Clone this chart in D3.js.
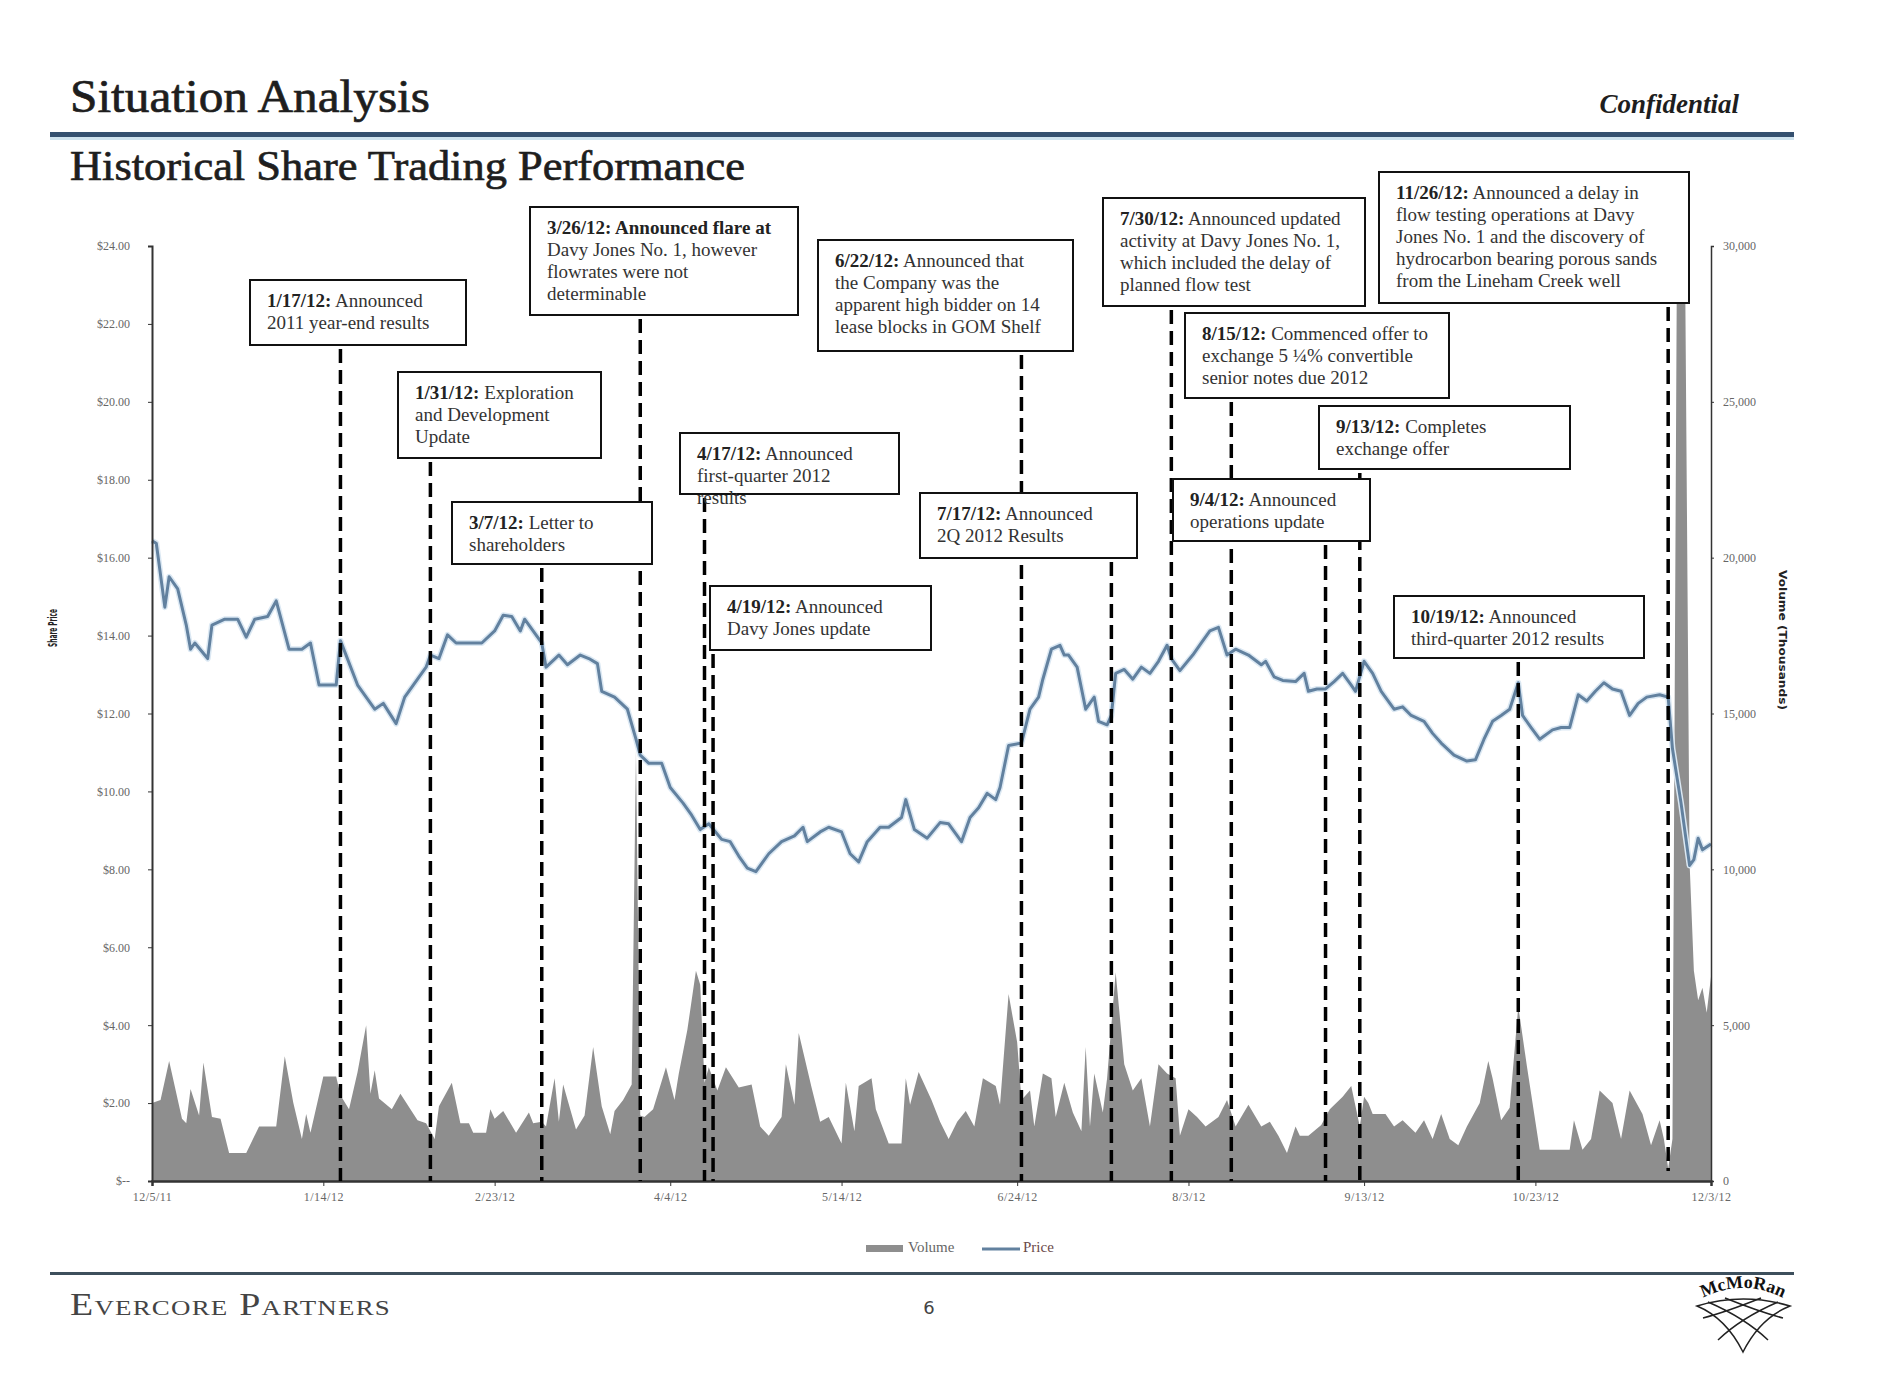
<!DOCTYPE html>
<html>
<head>
<meta charset="utf-8">
<script src="https://cdn.jsdelivr.net/npm/d3@7"></script>
<style>
  body { margin: 0; background: #fff; }
  svg { font-family: 'Liberation Serif', serif; }
  .note rect { fill: #fff; stroke: #111; stroke-width: 2px; }
  .note text { fill: #333; font-size: 19px; }
  .note .b { font-weight: bold; fill: #222; }
  .axis text { font-family: 'Liberation Serif', serif; fill: #666; font-size: 12px; }
  .axis path, .axis line { stroke: #333; }
</style>
</head>
<body>
<svg id="chart" width="1884" height="1400"></svg>
<script>
// ---- data ----
var xTickLabels = ["12/5/11","1/14/12","2/23/12","4/4/12","5/14/12","6/24/12","8/3/12","9/13/12","10/23/12","12/3/12"];
var priceTicks = [0,2,4,6,8,10,12,14,16,18,20,22,24];
var priceTickLabels = ["$--","$2.00","$4.00","$6.00","$8.00","$10.00","$12.00","$14.00","$16.00","$18.00","$20.00","$22.00","$24.00"];
var volumeTicks = [0,5000,10000,15000,20000,25000,30000];
var volumeTickLabels = ["0","5,000","10,000","15,000","20,000","25,000","30,000"];

var priceDates = ["12/5/11","12/6/11","12/8/11","12/9/11","12/11/11","12/13/11","12/14/11","12/15/11","12/18/11","12/19/11",
  "12/22/11","12/25/11","12/27/11","12/29/11","1/1/12","1/3/12","1/6/12","1/9/12","1/11/12","1/13/12",
  "1/17/12","1/18/12","1/22/12","1/24/12","1/26/12","1/28/12","1/31/12","2/2/12","2/5/12","2/7/12",
  "2/8/12","2/10/12","2/12/12","2/14/12","2/17/12","2/20/12","2/23/12","2/25/12","2/27/12","2/29/12",
  "3/1/12","3/5/12","3/6/12","3/9/12","3/11/12","3/14/12","3/16/12","3/18/12","3/19/12","3/22/12",
  "3/25/12","3/27/12","3/28/12","3/30/12","4/2/12","4/4/12","4/7/12","4/9/12","4/11/12","4/13/12",
  "4/16/12","4/18/12","4/20/12","4/22/12","4/24/12","4/27/12","4/30/12","5/3/12","5/5/12","5/6/12",
  "5/9/12","5/11/12","5/14/12","5/16/12","5/18/12","5/20/12","5/23/12","5/25/12","5/28/12","5/29/12",
  "5/31/12","6/3/12","6/6/12","6/8/12","6/11/12","6/13/12","6/15/12","6/17/12","6/19/12","6/20/12",
  "6/22/12","6/25/12","6/27/12","6/29/12","6/30/12","7/2/12","7/4/12","7/5/12","7/6/12","7/8/12",
  "7/10/12","7/12/12","7/13/12","7/15/12","7/16/12","7/17/12","7/19/12","7/21/12","7/23/12","7/25/12",
  "7/27/12","7/29/12","7/30/12","8/1/12","8/4/12","8/6/12","8/8/12","8/10/12","8/12/12","8/14/12",
  "8/17/12","8/20/12","8/21/12","8/23/12","8/25/12","8/28/12","8/30/12","8/31/12","9/2/12","9/4/12",
  "9/6/12","9/8/12","9/10/12","9/11/12","9/13/12","9/15/12","9/17/12","9/20/12","9/22/12","9/24/12",
  "9/27/12","9/29/12","10/1/12","10/4/12","10/7/12","10/9/12","10/11/12","10/13/12","10/15/12","10/17/12",
  "10/19/12","10/20/12","10/22/12","10/24/12","10/27/12","10/29/12","10/31/12","11/2/12","11/4/12","11/6/12",
  "11/8/12","11/10/12","11/12/12","11/14/12","11/16/12","11/18/12","11/21/12","11/23/12","11/24/12","11/26/12",
  "11/28/12","11/29/12","11/30/12","12/1/12","12/3/12"];
var priceValues = [16.43,16.37,14.73,15.51,15.20,14.27,13.65,13.81,13.41,14.27,
  14.42,14.42,13.96,14.42,14.49,14.89,13.65,13.65,13.81,12.73,
  12.73,13.87,12.73,12.42,12.11,12.26,11.74,12.42,12.88,13.19,
  13.50,13.41,14.02,13.81,13.81,13.81,14.12,14.52,14.49,14.12,
  14.42,13.81,13.19,13.50,13.25,13.50,13.41,13.28,12.57,12.42,
  12.11,11.34,10.93,10.72,10.72,10.10,9.70,9.39,9.02,9.17,
  8.77,8.71,8.34,8.03,7.94,8.40,8.71,8.86,9.08,8.71,
  8.96,9.08,8.96,8.40,8.19,8.71,9.08,9.08,9.33,9.79,
  9.02,8.80,9.20,9.17,8.71,9.33,9.58,9.95,9.79,10.10,
  11.18,11.24,12.11,12.42,12.88,13.65,13.75,13.50,13.50,13.19,
  12.11,12.42,11.80,11.71,11.95,13.03,13.13,12.88,13.19,13.03,
  13.34,13.75,13.41,13.10,13.50,13.81,14.12,14.21,13.50,13.65,
  13.50,13.25,13.34,12.94,12.85,12.82,13.03,12.57,12.63,12.63,
  12.82,13.03,12.73,12.57,13.34,13.03,12.57,12.11,12.17,11.95,
  11.80,11.49,11.24,10.93,10.78,10.81,11.34,11.80,11.95,12.11,
  12.79,11.95,11.64,11.34,11.58,11.64,11.64,12.48,12.32,12.57,
  12.79,12.63,12.57,11.95,12.26,12.42,12.48,12.42,11.10,9.70,
  8.10,8.25,8.80,8.50,8.65];

var volumeDates = ["12/5/11","12/7/11","12/9/11","12/12/11","12/13/11","12/14/11","12/16/11","12/17/11","12/19/11","12/21/11",
  "12/23/11","12/27/11","12/30/11","1/3/12","1/5/12","1/7/12","1/9/12","1/10/12","1/11/12","1/14/12",
  "1/17/12","1/18/12","1/20/12","1/22/12","1/24/12","1/25/12","1/26/12","1/27/12","1/30/12","2/1/12",
  "2/5/12","2/7/12","2/9/12","2/10/12","2/13/12","2/15/12","2/17/12","2/18/12","2/21/12","2/22/12",
  "2/23/12","2/25/12","2/28/12","3/2/12","3/3/12","3/5/12","3/6/12","3/8/12","3/9/12","3/10/12",
  "3/13/12","3/15/12","3/17/12","3/19/12","3/21/12","3/22/12","3/24/12","3/26/12","3/27/12","3/28/12","3/29/12",
  "3/31/12","4/3/12","4/5/12","4/6/12","4/8/12","4/10/12","4/11/12","4/12/12","4/13/12","4/15/12",
  "4/17/12","4/20/12","4/23/12","4/25/12","4/27/12","4/30/12","5/1/12","5/3/12","5/4/12","5/7/12",
  "5/9/12","5/11/12","5/14/12","5/15/12","5/17/12","5/18/12","5/21/12","5/22/12","5/25/12","5/28/12",
  "5/29/12","5/30/12","6/1/12","6/4/12","6/6/12","6/8/12","6/10/12","6/12/12","6/14/12","6/16/12",
  "6/19/12","6/20/12","6/22/12","6/24/12","6/25/12","6/27/12","6/28/12","6/30/12","7/2/12","7/3/12",
  "7/5/12","7/7/12","7/9/12","7/10/12","7/11/12","7/12/12","7/14/12","7/15/12","7/17/12","7/19/12",
  "7/21/12","7/23/12","7/25/12","7/27/12","7/29/12","7/31/12","8/1/12","8/3/12","8/5/12","8/7/12",
  "8/10/12","8/12/12","8/14/12","8/17/12","8/20/12","8/22/12","8/24/12","8/26/12","8/28/12","8/29/12",
  "8/31/12","9/3/12","9/5/12","9/8/12","9/10/12","9/12/12","9/13/12","9/14/12","9/15/12","9/18/12",
  "9/20/12","9/22/12","9/25/12","9/27/12","9/29/12","10/1/12","10/3/12","10/5/12","10/7/12","10/10/12",
  "10/12/12","10/13/12","10/15/12","10/17/12","10/19/12","10/21/12","10/24/12","10/28/12","10/31/12","11/1/12",
  "11/3/12","11/5/12","11/7/12","11/10/12","11/12/12","11/14/12","11/17/12","11/19/12","11/21/12","11/22/12",
  "11/23/12","11/24/12","11/25/12","11/27/12","11/28/12","11/29/12","11/30/12","12/1/12","12/2/12","12/3/12"];
var volumeValues = [2500,2600,3850,2000,1850,2950,2100,3800,2050,2000,
  900,900,1750,1750,4000,2500,1350,2150,1550,3350,
  3350,2750,2300,3500,5000,2800,3550,2650,2300,2800,
  1950,1850,1350,2400,3150,1850,1850,1550,1550,2300,
  2000,2250,1550,2200,1850,1900,1750,3300,1900,3100,
  1650,2100,4300,2400,1500,2250,2600,3100,13800,2100,2050,
  2300,3650,2600,3450,4850,6750,6300,3150,3650,2900,
  3650,3000,3100,1750,1450,2050,3750,2450,4750,3000,
  1900,2050,1200,3150,1600,3050,3300,2300,1200,1200,
  3300,2450,3500,2600,1900,1350,1900,2250,1750,3300,
  3050,2450,6000,4450,2600,2900,1750,3450,3300,2050,
  3150,2200,1600,4300,1750,3450,2200,3300,6700,3750,
  2900,3300,1750,3750,3450,3300,1450,2300,2050,1750,
  2050,2600,1750,2450,1750,1900,1450,900,1750,1450,
  1450,1800,2300,2700,3050,1750,2700,2500,2150,2150,
  1750,1950,1550,1950,1350,2150,1350,1150,1750,2500,
  3850,3300,1950,2350,5600,3700,1000,1000,1000,1950,
  1000,1350,2900,2500,1350,2900,2150,1150,1950,1350,
  400,1350,28500,28500,10200,6750,5800,6200,5400,6550];

// event markers: where each dashed line sits, and the note text
var eventLineDates = ["1/18/12","2/8/12","3/5/12","3/28/12","4/12/12","4/14/12","6/25/12","7/16/12","7/30/12","8/13/12","9/4/12","9/12/12","10/19/12","11/23/12"];
var eventNotes = [
  [["1/17/12:", " Announced"], "2011 year-end results"],
  [["1/31/12:", " Exploration"], "and Development", "Update"],
  [["3/7/12:", " Letter to"], "shareholders"],
  [["3/26/12: Announced flare at", ""], "Davy Jones No. 1, however", "flowrates were not", "determinable"],
  [["4/17/12:", " Announced"], "first-quarter 2012", "results"],
  [["4/19/12:", " Announced"], "Davy Jones update"],
  [["6/22/12:", " Announced that"], "the Company was the", "apparent high bidder on 14", "lease blocks in GOM Shelf"],
  [["7/17/12:", " Announced"], "2Q 2012 Results"],
  [["7/30/12:", " Announced updated"], "activity at Davy Jones No. 1,", "which included the delay of", "planned flow test"],
  [["8/15/12:", " Commenced offer to"], "exchange 5 \u00BC% convertible", "senior notes due 2012"],
  [["9/4/12:", " Announced"], "operations update"],
  [["9/13/12:", " Completes"], "exchange offer"],
  [["10/19/12:", " Announced"], "third-quarter 2012 results"],
  [["11/26/12:", " Announced a delay in"], "flow testing operations at Davy", "Jones No. 1 and  the discovery of", "hydrocarbon bearing porous sands", "from the Lineham Creek well"]
];

// ---- layout (pixels) ----
var noteBoxes = [ // x, y, w, h
  [250, 280, 216, 65], [398, 372, 203, 86], [452, 502, 200, 62], [530, 207, 268, 108],
  [680, 433, 219, 61], [710, 586, 221, 64], [818, 240, 255, 111], [920, 493, 217, 65],
  [1103, 198, 262, 108], [1185, 313, 264, 85], [1173, 479, 197, 62], [1319, 406, 251, 63],
  [1394, 596, 250, 62], [1379, 172, 310, 131]
];
var plot = { left: 152, right: 1711, top: 246, bottom: 1181 };

var parse = d3.timeParse("%m/%d/%y");
var svg = d3.select("#chart");

var x = d3.scaleTime().domain([parse("12/5/11"), parse("12/3/12")]).range([plot.left, plot.right]);
var yPrice = d3.scaleLinear().domain([0, 24]).range([plot.bottom, plot.top]);
var yVol = d3.scaleLinear().domain([0, 30000]).range([plot.bottom, plot.top]);

var price = d3.zip(priceDates, priceValues).map(function (d) { return { date: parse(d[0]), v: d[1] }; });
var volume = d3.zip(volumeDates, volumeValues).map(function (d) { return { date: parse(d[0]), v: d[1] }; });

// page header
svg.append("text").attr("x", 70).attr("y", 112).attr("font-size", 46).attr("fill", "#1e1e1e")
  .attr("stroke", "#1e1e1e").attr("stroke-width", 0.7)
  .attr("textLength", 360).attr("lengthAdjust", "spacingAndGlyphs").text("Situation Analysis");
svg.append("text").attr("x", 1739).attr("y", 113).attr("text-anchor", "end").attr("font-size", 27)
  .attr("font-style", "italic").attr("font-weight", "bold").attr("fill", "#1e1e1e").text("Confidential");
svg.append("rect").attr("x", 50).attr("y", 137).attr("width", 1744).attr("height", 3).attr("fill", "#cfe3ee");
svg.append("rect").attr("x", 50).attr("y", 132).attr("width", 1744).attr("height", 5).attr("fill", "#34506f");
svg.append("text").attr("x", 70).attr("y", 180).attr("font-size", 42).attr("fill", "#1e1e1e")
  .attr("stroke", "#1e1e1e").attr("stroke-width", 0.7)
  .attr("textLength", 675).attr("lengthAdjust", "spacingAndGlyphs").text("Historical Share Trading Performance");

// volume area
svg.append("path").datum(volume)
  .attr("fill", "#8e8e8e")
  .attr("d", d3.area().x(function (d) { return x(d.date); }).y0(plot.bottom).y1(function (d) { return yVol(d.v); }));

// price line
var priceLine = d3.line().x(function (d) { return x(d.date); }).y(function (d) { return yPrice(d.v); });
svg.append("path").datum(price)
  .attr("fill", "none").attr("stroke", "#dbe8f3").attr("stroke-width", 6).attr("stroke-linejoin", "round")
  .attr("d", priceLine);
svg.append("path").datum(price)
  .attr("fill", "none").attr("stroke", "#62819f").attr("stroke-width", 3).attr("stroke-linejoin", "round")
  .attr("d", priceLine);

// axes
var leftAxis = svg.append("g").attr("class", "axis").attr("transform", "translate(" + plot.left + ",0)")
  .call(d3.axisLeft(yPrice).tickValues(priceTicks).tickSize(4).tickPadding(18)
    .tickFormat(function (d, i) { return priceTickLabels[i]; }));
leftAxis.select(".domain").attr("stroke", "#222").attr("stroke-width", 2);
leftAxis.selectAll(".tick line").attr("stroke", "#888");

var rightAxis = svg.append("g").attr("class", "axis").attr("transform", "translate(" + plot.right + ",0)")
  .call(d3.axisRight(yVol).tickValues(volumeTicks).tickSize(3).tickPadding(9)
    .tickFormat(function (d, i) { return volumeTickLabels[i]; }));
rightAxis.select(".domain").attr("stroke", "#aaa").attr("stroke-width", 1.5);
rightAxis.selectAll(".tick line").attr("stroke", "#aaa");

var bottomAxis = svg.append("g").attr("class", "axis").attr("transform", "translate(0," + plot.bottom + ")")
  .call(d3.axisBottom(x).tickValues(xTickLabels.map(parse)).tickSize(5).tickPadding(6)
    .tickFormat(function (d, i) { return xTickLabels[i]; }));
bottomAxis.select(".domain").attr("stroke", "#333").attr("stroke-width", 2.5);
bottomAxis.selectAll("text").attr("font-size", 12).attr("fill", "#555").attr("letter-spacing", 0.5);

svg.append("text").attr("transform", "translate(57,628) rotate(-90)").attr("text-anchor", "middle")
  .attr("font-family", "DejaVu Sans Condensed, DejaVu Sans").attr("font-size", 12).attr("font-weight", "bold").attr("fill", "#222")
  .attr("textLength", 38).attr("lengthAdjust", "spacingAndGlyphs").text("Share Price");
svg.append("text").attr("transform", "translate(1779,640) rotate(90)").attr("text-anchor", "middle")
  .attr("font-family", "DejaVu Sans Condensed, DejaVu Sans").attr("font-size", 11).attr("font-weight", "bold").attr("fill", "#222")
  .attr("textLength", 140).attr("lengthAdjust", "spacingAndGlyphs").text("Volume (Thousands)");

// dashed event lines, from under their note down to the axis
svg.append("g").selectAll("line").data(eventLineDates).enter().append("line")
  .attr("x1", function (d) { return x(parse(d)); })
  .attr("x2", function (d) { return x(parse(d)); })
  .attr("y1", function (d, i) { return noteBoxes[i][1] + noteBoxes[i][3] + 4; })
  .attr("y2", function (d, i) { return i === 13 ? plot.bottom - 10 : plot.bottom; })
  .attr("stroke", "#000").attr("stroke-width", 3.5).attr("stroke-dasharray", "14,7");

// notes
var notes = svg.append("g").selectAll("g").data(eventNotes).enter().append("g").attr("class", "note");
notes.append("rect")
  .attr("x", function (d, i) { return noteBoxes[i][0]; })
  .attr("y", function (d, i) { return noteBoxes[i][1]; })
  .attr("width", function (d, i) { return noteBoxes[i][2]; })
  .attr("height", function (d, i) { return noteBoxes[i][3]; });
notes.each(function (d, i) {
  var b = noteBoxes[i];
  var g = d3.select(this);
  d.forEach(function (line, j) {
    var t = g.append("text").attr("x", b[0] + 17).attr("y", b[1] + 27 + j * 22);
    if (Array.isArray(line)) {
      t.append("tspan").attr("class", "b").text(line[0]);
      t.append("tspan").text(line[1]);
    } else {
      t.text(line);
    }
  });
});

// legend
svg.append("rect").attr("x", 866).attr("y", 1245).attr("width", 37).attr("height", 7).attr("fill", "#8e8e8e");
svg.append("text").attr("x", 908).attr("y", 1252).attr("font-size", 15).attr("fill", "#666").text("Volume");
svg.append("line").attr("x1", 982).attr("x2", 1020).attr("y1", 1249).attr("y2", 1249)
  .attr("stroke", "#62819f").attr("stroke-width", 3);
svg.append("text").attr("x", 1023).attr("y", 1252).attr("font-size", 15).attr("fill", "#6b4a4a").text("Price");

// footer
svg.append("rect").attr("x", 50).attr("y", 1272).attr("width", 1744).attr("height", 3).attr("fill", "#3d4f5c");
svg.append("text").attr("x", 70).attr("y", 1315).attr("font-size", 31).attr("font-variant", "small-caps")
  .attr("fill", "#444").attr("letter-spacing", 1)
  .attr("textLength", 321).attr("lengthAdjust", "spacingAndGlyphs").text("Evercore Partners");
svg.append("text").attr("x", 929).attr("y", 1314).attr("text-anchor", "middle").attr("font-family", "DejaVu Sans")
  .attr("font-size", 18).attr("fill", "#444").text("6");

// McMoRan mark
var logo = svg.append("g").attr("fill", "none").attr("stroke", "#222").attr("stroke-width", 1.5);
logo.append("path").attr("id", "logoArc").attr("d", "M1692,1304 Q1743,1272 1794,1304").attr("stroke", "none");
svg.append("text").attr("font-size", 18).attr("font-weight", "bold").attr("fill", "#111")
  .append("textPath").attr("href", "#logoArc").attr("startOffset", "50%").attr("text-anchor", "middle").text("McMoRan");
logo.append("path").attr("d", "M1697,1306 Q1743,1292 1790,1306 Q1760,1318 1743,1352 Q1726,1318 1697,1306 Z");
logo.append("path").attr("d", "M1708,1302 Q1745,1318 1768,1340 M1725,1298 Q1760,1312 1783,1318 M1778,1302 Q1741,1318 1718,1340 M1761,1298 Q1726,1312 1703,1318");
</script>
</body>
</html>
